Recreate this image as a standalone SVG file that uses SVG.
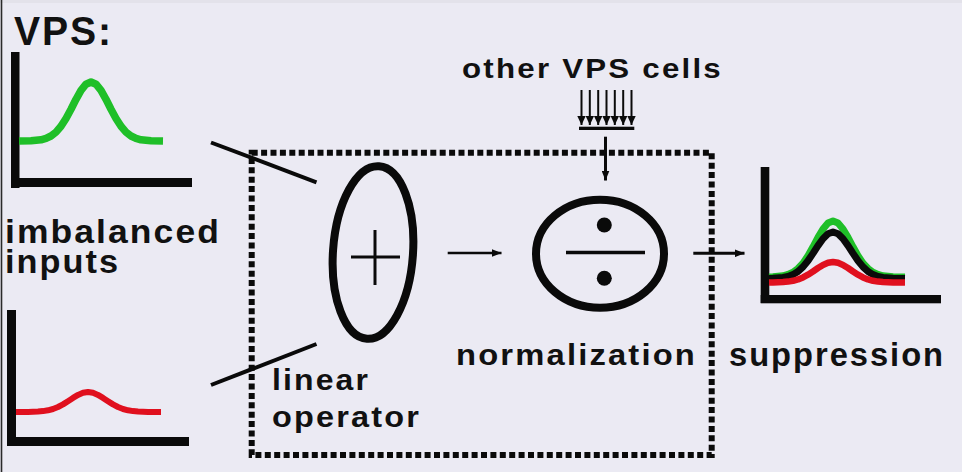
<svg xmlns="http://www.w3.org/2000/svg" width="962" height="472" viewBox="0 0 962 472">
<defs>
<style>
.t{font-family:"Liberation Sans",Arial,sans-serif;font-weight:bold;fill:#111;letter-spacing:2px;}
.ax{fill:#0a0a0a;}
.cv{fill:none;stroke-linejoin:round;stroke-linecap:butt;}
.ln{stroke:#0a0a0a;fill:none;}
</style>
<marker id="ah" markerUnits="userSpaceOnUse" markerWidth="10" markerHeight="8" refX="10" refY="4" orient="auto">
<path d="M0,0 L10,4 L0,8 Z" fill="#0a0a0a"/>
</marker>
<marker id="ahs" markerUnits="userSpaceOnUse" markerWidth="9" markerHeight="8.4" refX="9" refY="4.2" orient="auto">
<path d="M0,0 L9,4.2 L0,8.4 Z" fill="#0a0a0a"/>
</marker>
</defs>
<rect x="0" y="0" width="962" height="472" fill="#ebeaf3"/>
<rect x="0" y="0" width="962" height="3" fill="#e3e2ea"/>
<line x1="1.5" y1="0" x2="1.5" y2="472" stroke="#2a2a2a" stroke-width="1.6"/>

<g id="title">
<text class="t" x="14" y="45" font-size="41" textLength="99" lengthAdjust="spacingAndGlyphs">VPS:</text>
</g>

<g id="input-green">
<rect class="ax" x="11" y="52" width="8.5" height="136"/>
<rect class="ax" x="11" y="178" width="181" height="9"/>
<path class="cv" stroke="#1fbf28" stroke-width="7.5" d="M19,141 L31,140.8 L41,139.8 L46,138.4 L51,136 L56,132.1 L61,126.3 L66,118.5 L71,109.2 L76,99.3 L81,90.4 L86,84.2 L91,82 L96,84.2 L101,90.4 L106,99.3 L111,109.2 L116,118.5 L121,126.3 L126,132.1 L131,136 L136,138.4 L141,139.8 L151,140.8 L163,141"/>
</g>

<g id="input-red">
<rect class="ax" x="7" y="310" width="9" height="136"/>
<rect class="ax" x="7" y="437" width="182" height="9"/>
<path class="cv" stroke="#e0101e" stroke-width="6" d="M16,412 L28,411.9 L38,411.6 L43,411.1 L48,410.3 L53,409 L58,407 L63,404.4 L68,401.2 L73,397.9 L78,394.9 L83,392.8 L88,392 L93,392.8 L98,394.9 L103,397.9 L108,401.2 L113,404.4 L118,407 L123,409 L128,410.3 L133,411.1 L138,411.6 L148,411.9 L161,412"/>
</g>

<g id="label-inputs">
<text class="t" x="5" y="243" font-size="34" textLength="216" lengthAdjust="spacingAndGlyphs">imbalanced</text>
<text class="t" x="5" y="273" font-size="34" textLength="115" lengthAdjust="spacingAndGlyphs">inputs</text>
</g>

<g id="box">
<rect x="251.7" y="152.7" width="460" height="302.3" fill="none" stroke="#0a0a0a" stroke-width="6" stroke-dasharray="6 3.4"/>
</g>

<g id="linear-operator">
<ellipse cx="373" cy="252.5" rx="40" ry="86.5" transform="rotate(4 373 252.5)" fill="none" stroke="#0a0a0a" stroke-width="8"/>
<line class="ln" x1="351" y1="257" x2="400" y2="257" stroke-width="3"/>
<line class="ln" x1="375" y1="230" x2="375" y2="285" stroke-width="3"/>
<text class="t" x="272" y="390" font-size="30" textLength="98" lengthAdjust="spacingAndGlyphs">linear</text>
<text class="t" x="272" y="427" font-size="30" textLength="149" lengthAdjust="spacingAndGlyphs">operator</text>
</g>

<g id="normalization">
<ellipse cx="600" cy="253.7" rx="64" ry="54" fill="none" stroke="#0a0a0a" stroke-width="8"/>
<line class="ln" x1="566" y1="252.5" x2="645" y2="252.5" stroke-width="3.5"/>
<circle cx="604.3" cy="225" r="7.5" fill="#0a0a0a"/>
<circle cx="604.3" cy="278.3" r="7.5" fill="#0a0a0a"/>
<text class="t" x="456" y="365" font-size="30" textLength="241" lengthAdjust="spacingAndGlyphs">normalization</text>
</g>

<g id="other-cells">
<text class="t" x="462" y="78" font-size="28" textLength="261" lengthAdjust="spacingAndGlyphs">other VPS cells</text>
<g stroke="#0a0a0a" stroke-width="2">
<line x1="581.5" y1="90" x2="581.5" y2="125" marker-end="url(#ahs)"/>
<line x1="589.8" y1="90" x2="589.8" y2="125" marker-end="url(#ahs)"/>
<line x1="598.2" y1="90" x2="598.2" y2="125" marker-end="url(#ahs)"/>
<line x1="606.5" y1="90" x2="606.5" y2="125" marker-end="url(#ahs)"/>
<line x1="614.8" y1="90" x2="614.8" y2="125" marker-end="url(#ahs)"/>
<line x1="623.2" y1="90" x2="623.2" y2="125" marker-end="url(#ahs)"/>
<line x1="631.5" y1="90" x2="631.5" y2="125" marker-end="url(#ahs)"/>
</g>
<rect x="579" y="126.7" width="55.3" height="3.3" fill="#0a0a0a"/>
</g>

<g id="output">
<rect class="ax" x="760.7" y="167" width="8.6" height="136"/>
<rect class="ax" x="760.7" y="295" width="180.3" height="8.3"/>
<path class="cv" stroke="#1fbf28" stroke-width="7" d="M769,277 L773,276.8 L783,275.8 L788,274.5 L793,272.3 L798,268.5 L803,263.1 L808,255.7 L813,246.8 L818,237.4 L823,229 L828,223.1 L833,221 L838,223.1 L843,229 L848,237.4 L853,246.8 L858,255.7 L863,263.1 L868,268.5 L873,272.3 L878,274.5 L883,275.8 L893,276.8 L905,277"/>
<path class="cv" stroke="#0a0a0a" stroke-width="7" d="M769,278.5 L773,278.3 L783,277.5 L788,276.5 L793,274.6 L798,271.5 L803,266.9 L808,260.8 L813,253.4 L818,245.6 L823,238.7 L828,233.8 L833,232 L838,233.8 L843,238.7 L848,245.6 L853,253.4 L858,260.8 L863,266.9 L868,271.5 L873,274.6 L878,276.5 L883,277.5 L893,278.3 L905,278.5"/>
<path class="cv" stroke="#e0101e" stroke-width="6.5" d="M769,282.5 L773,282.4 L783,282.1 L788,281.6 L793,280.8 L798,279.4 L803,277.4 L808,274.7 L813,271.5 L818,268 L823,264.9 L828,262.8 L833,262 L838,262.8 L843,264.9 L848,268 L853,271.5 L858,274.7 L863,277.4 L868,279.4 L873,280.8 L878,281.6 L883,282.1 L893,282.4 L905,282.5"/>
<text class="t" x="729" y="366" font-size="33" textLength="216" lengthAdjust="spacingAndGlyphs">suppression</text>
</g>

<g id="connectors" stroke="#0a0a0a" fill="none">
<line x1="211" y1="142.5" x2="316.5" y2="182.3" stroke-width="4"/>
<line x1="211" y1="385" x2="316.5" y2="344" stroke-width="4"/>
<line x1="447.7" y1="253" x2="501.5" y2="253" stroke-width="2.6" marker-end="url(#ah)"/>
<line x1="605.5" y1="136.7" x2="605.5" y2="180.5" stroke-width="3" marker-end="url(#ah)"/>
<line x1="693.3" y1="253.3" x2="744.5" y2="253.3" stroke-width="3" marker-end="url(#ah)"/>
</g>
</svg>
